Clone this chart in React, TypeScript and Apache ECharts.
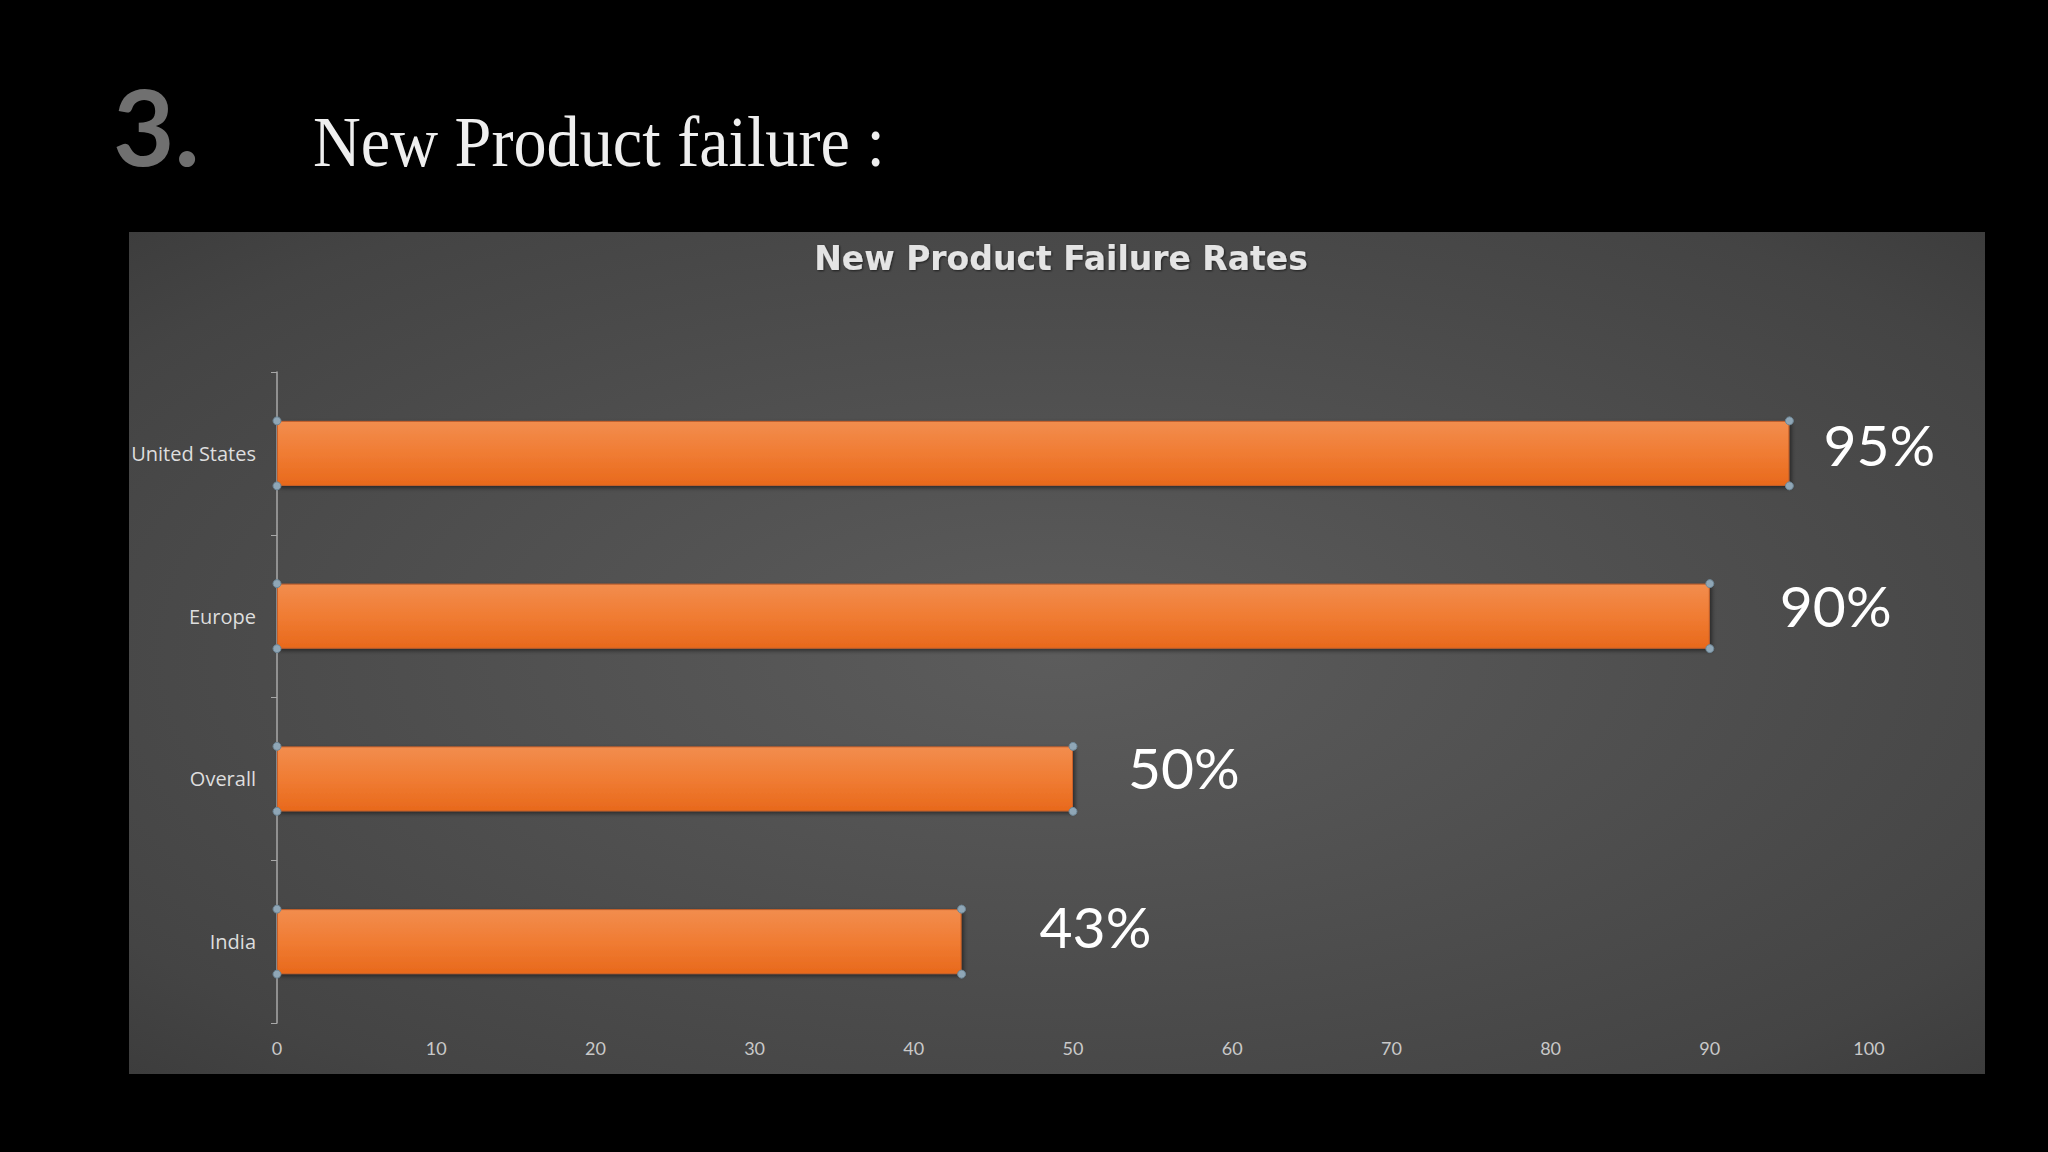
import React, { useEffect, useRef } from "react";
import * as echarts from "echarts";

const categories = ["United States", "Europe", "Overall", "India"];
const failureRates = [95, 90, 50, 43];
const xTicks = { min: 0, max: 100, interval: 10 };
// label gaps (px) and vertical nudges, styling only
const labelGap = [34, 70, 55, 78];
const labelLift = [-9, -11, -12, -16];

const BAR_H = 65;

export default function App() {
  const ref = useRef<HTMLDivElement>(null);
  useEffect(() => {
    const chart = echarts.init(ref.current!, null, { renderer: "svg" });
    chart.setOption({
      animation: false,
      backgroundColor: "#000000",
      title: {
        text: "New Product Failure Rates",
        left: 1056,
        top: 237,
        textAlign: "center",
        textStyle: {
          color: "#e4e4e4",
          fontSize: 33,
          fontWeight: "bold",
          fontFamily: "DejaVu Sans",
          textShadowColor: "rgba(0,0,0,0.6)",
          textShadowBlur: 2,
          textShadowOffsetX: 1,
          textShadowOffsetY: 1,
        },
      },
      graphic: [
        {
          type: "rect",
          z: -10,
          shape: { x: 129, y: 232, width: 1856, height: 842 },
          style: {
            fill: {
              type: "radial",
              x: 0.5,
              y: 0.5,
              r: 1.1,
              colorStops: [
                { offset: 0, color: "#5c5c5c" },
                { offset: 0.55, color: "#444444" },
                { offset: 1, color: "#222222" },
              ],
            },
          },
        },
        {
          type: "text",
          x: 113,
          y: 178,
          z: 10,
          style: {
            text: "3.",
            fill: "#707070",
            font: "bold 106px Lato",
            textVerticalAlign: "bottom",
          },
        },
        {
          type: "text",
          x: 313,
          y: 142,
          z: 10,
          scaleX: 0.92,
          style: {
            text: "New Product failure :",
            fill: "#efefef",
            font: "72px 'Liberation Serif'",
            textVerticalAlign: "middle",
          },
        },
      ],
      grid: { left: 277, right: 179, top: 372, bottom: 129, containLabel: false },
      xAxis: {
        type: "value",
        min: xTicks.min,
        max: xTicks.max,
        interval: xTicks.interval,
        axisLine: { show: false },
        axisTick: { show: false },
        splitLine: { show: false },
        axisLabel: { color: "#c9c9c9", fontSize: 18, fontFamily: "Lato", margin: 16 },
      },
      yAxis: {
        type: "category",
        inverse: true,
        data: categories,
        axisLine: { show: true, lineStyle: { color: "#a8a8a8", width: 1.5 } },
        axisTick: { show: true, length: 6, lineStyle: { color: "#a8a8a8" } },
        axisLabel: { color: "#dedede", fontSize: 20, fontFamily: "Open Sans", margin: 21 },
        splitLine: { show: false },
      },
      series: [
        {
          type: "bar",
          barWidth: BAR_H,
          z: 3,
          data: failureRates.map((v, i) => ({
            value: v,
            label: { distance: labelGap[i], offset: [0, labelLift[i]] },
          })),
          itemStyle: {
            color: {
              type: "linear",
              x: 0,
              y: 0,
              x2: 0,
              y2: 1,
              colorStops: [
                { offset: 0, color: "#f28d4e" },
                { offset: 0.5, color: "#f07c33" },
                { offset: 1, color: "#e8691c" },
              ],
            },
            borderColor: "#c9612a",
            borderWidth: 1,
            shadowColor: "rgba(0,0,0,0.5)",
            shadowBlur: 4,
            shadowOffsetX: 2,
            shadowOffsetY: 2,
          },
          label: {
            show: true,
            position: "right",
            formatter: "{c}%",
            color: "#ffffff",
            fontSize: 57,
            fontFamily: "Lato",
          },
        },
        {
          type: "custom",
          z: 5,
          data: failureRates.map((v, i) => [v, i]),
          renderItem: (params: any, api: any) => {
            const v = api.value(0);
            const idx = api.value(1);
            const s = api.coord([0, idx]);
            const e = api.coord([v, idx]);
            const h = BAR_H / 2;
            const pts = [
              [s[0], s[1] - h],
              [s[0], s[1] + h],
              [e[0], e[1] - h],
              [e[0], e[1] + h],
            ];
            return {
              type: "group",
              children: pts.map((p) => ({
                type: "circle",
                shape: { cx: p[0], cy: p[1], r: 4 },
                style: { fill: "#8fa6b6", stroke: "#6d8696", lineWidth: 1 },
              })),
            };
          },
        },
      ],
    });
    return () => chart.dispose();
  }, []);
  return (
    <div
      ref={ref}
      style={{ position: "fixed", left: 0, top: 0, width: 2048, height: 1152 }}
    />
  );
}
